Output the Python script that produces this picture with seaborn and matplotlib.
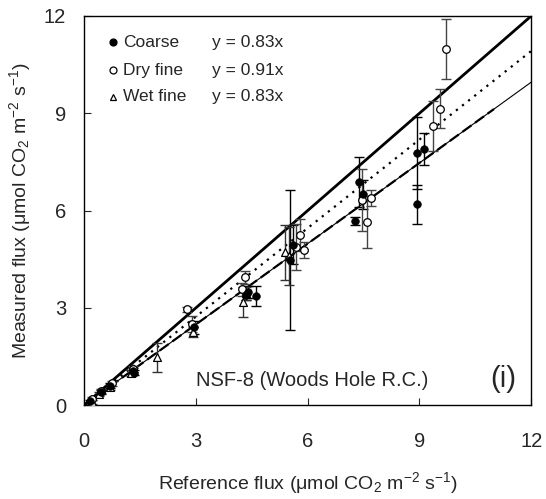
import numpy as np
import pandas as pd
import matplotlib
matplotlib.use("Agg")
import matplotlib.pyplot as plt
import seaborn as sns

# ---- data ----
coarse_x = [0.15, 0.45, 0.70, 1.30, 1.35, 2.95, 4.40, 4.60, 4.35, 5.53, 5.60, 7.27, 7.38, 7.49, 8.94, 8.94, 9.13]
coarse_y = [0.12, 0.40, 0.60, 1.05, 1.00, 2.40, 3.49, 3.36, 3.40, 4.48, 4.94, 5.68, 6.88, 6.50, 7.78, 6.20, 7.90]
coarse_e = [0.05, 0.06, 0.08, 0.10, 0.08, 0.20, 0.20, 0.30, 0.15, 2.15, 0.60, 0.12, 0.78, 0.45, 1.10, 0.60, 0.50]

dry_x = [0.20, 0.45, 0.75, 1.30, 2.75, 2.90, 4.32, 4.24, 5.80, 5.69, 5.90, 7.46, 7.60, 7.70, 9.37, 9.56, 9.72]
dry_y = [0.20, 0.45, 0.68, 1.12, 2.96, 2.50, 3.95, 3.58, 5.25, 4.88, 4.78, 6.33, 5.65, 6.38, 8.61, 9.14, 10.98]
dry_e = [0.05, 0.06, 0.08, 0.10, 0.08, 0.25, 0.20, 0.20, 0.50, 0.70, 0.25, 0.95, 0.80, 0.25, 0.77, 0.60, 0.92]

wet_x = [0.20, 0.40, 0.70, 1.25, 1.96, 2.93, 4.27, 4.35, 5.40, 5.50]
wet_y = [0.10, 0.35, 0.55, 1.00, 1.48, 2.25, 3.18, 3.45, 4.72, 4.60]
wet_e = [0.05, 0.06, 0.08, 0.10, 0.45, 0.15, 0.45, 0.20, 0.85, 0.90]

slopes = {"Coarse": 0.83, "Dry fine": 0.91, "Wet fine": 0.83}
ticks = [0, 3, 6, 9, 12]

# ---- style ----
sns.set_style("ticks")
plt.rcParams["font.family"] = ["Liberation Sans", "DejaVu Sans"]
plt.rcParams["mathtext.default"] = "regular"

fig = plt.figure(figsize=(5.46, 4.99), dpi=100)
ax = fig.add_axes([0.154, 0.188, 0.819, 0.780])

df = pd.concat([
    pd.DataFrame({"x": coarse_x, "y": coarse_y, "e": coarse_e, "g": "Coarse"}),
    pd.DataFrame({"x": dry_x, "y": dry_y, "e": dry_e, "g": "Dry fine"}),
    pd.DataFrame({"x": wet_x, "y": wet_y, "e": wet_e, "g": "Wet fine"}),
])

# reference and fit lines
xx = np.array([0, 12])
sns.lineplot(x=xx, y=xx, color="black", lw=2.0, ax=ax)
sns.lineplot(x=xx, y=slopes["Dry fine"] * xx, color="black", lw=1.6, ls=(0, (1, 2.5)), ax=ax)
sns.lineplot(x=xx, y=slopes["Coarse"] * xx, color="black", lw=0.8, ax=ax)
xd = np.array([0, 11])
sns.lineplot(x=xd, y=slopes["Wet fine"] * xd, color="black", lw=1.6, ls=(0, (5, 2)), ax=ax)

# error bars
ecol = {"Coarse": "black", "Dry fine": "#444444", "Wet fine": "#333333"}
for g, sub in df.groupby("g"):
    ax.errorbar(sub["x"], sub["y"], yerr=sub["e"], fmt="none", ecolor=ecol[g],
                elinewidth=1.0, capsize=3.5, capthick=1.0, zorder=3)

# markers
sns.scatterplot(data=df[df.g == "Wet fine"], x="x", y="y", marker="^", s=32,
                facecolor="white", edgecolor="black", linewidth=0.9, ax=ax, zorder=4)
sns.scatterplot(data=df[df.g == "Dry fine"], x="x", y="y", marker="o", s=30,
                facecolor="white", edgecolor="black", linewidth=0.9, ax=ax, zorder=5)
sns.scatterplot(data=df[df.g == "Coarse"], x="x", y="y", marker="o", s=30,
                color="black", edgecolor="black", linewidth=0.5, ax=ax, zorder=6)

ax.set_xlim(0, 12)
ax.set_ylim(0, 12)
ax.set_xticks(ticks)
ax.set_yticks(ticks)
ax.set_xticklabels([str(t) for t in ticks])
ax.set_yticklabels([str(t) for t in ticks])
ax.tick_params(axis="both", direction="in", length=5, width=0.8, labelsize=14.5)
ax.tick_params(axis="x", pad=19)
ax.tick_params(axis="y", pad=13)
for s in ax.spines.values():
    s.set_visible(True)
    s.set_linewidth(1.0)
    s.set_color("black")

ax.set_xlabel("Reference flux (μmol CO$_2$ m$^{-2}$ s$^{-1}$)", fontsize=14, labelpad=14)
ax.set_ylabel("Measured flux (μmol CO$_2$ m$^{-2}$ s$^{-1}$)", fontsize=14, labelpad=8)

# legend (manual)
leg_y = [0.933, 0.861, 0.792]
leg_mk = [dict(marker="o", color="black", ms=5),
          dict(marker="o", mfc="white", mec="black", ms=5),
          dict(marker="^", mfc="white", mec="black", ms=5)]
names = list(slopes.keys())
for yy, mk, nm in zip(leg_y, leg_mk, names):
    ax.plot([0.065], [yy], transform=ax.transAxes, ls="none", mew=0.9, **mk)
    ax.text(0.087, yy, nm, transform=ax.transAxes, fontsize=12.5, va="center", ha="left")
    ax.text(0.287, yy, f"y = {slopes[nm]:.2f}x", transform=ax.transAxes, fontsize=12.5,
            va="center", ha="left")

ax.text(0.51, 0.064, "NSF-8 (Woods Hole R.C.)", transform=ax.transAxes, fontsize=14.5,
        ha="center", va="center")
ax.text(0.937, 0.066, "(i)", transform=ax.transAxes, fontsize=21, ha="center", va="center")

fig.savefig("out.png", dpi=100)
